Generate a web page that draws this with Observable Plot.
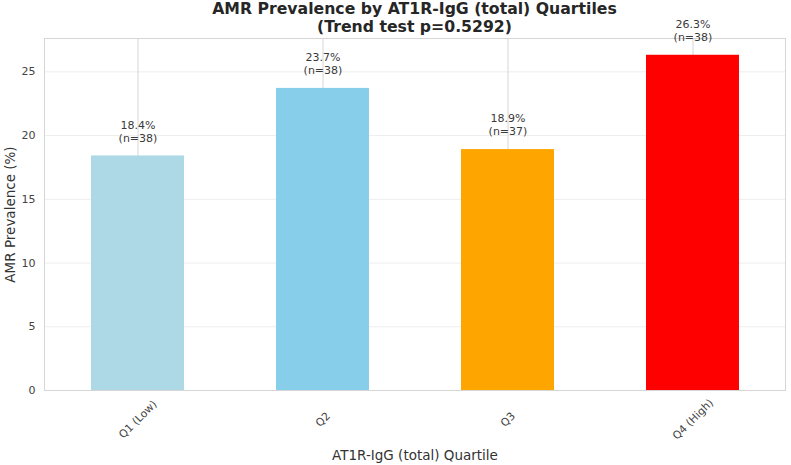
<!DOCTYPE html>
<html>
<head>
<meta charset="utf-8">
<script src="https://cdn.jsdelivr.net/npm/d3@7"></script>
<script src="https://cdn.jsdelivr.net/npm/@observablehq/plot@0.6"></script>
<style>
  html, body { margin: 0; padding: 0; background: #fff; }
  #wrap { position: relative; width: 791px; height: 465px; font-family: "DejaVu Sans", sans-serif; }
  #title { position: absolute; left: 44px; width: 741px; top: 0px; text-align: center;
           font-weight: bold; font-size: 15.7px; line-height: 18px; color: #262626; }
  svg { overflow: visible; }
</style>
</head>
<body>
<div id="wrap">
  <div id="chart"></div>
  <div id="title">AMR Prevalence by AT1R-IgG (total) Quartiles<br>(Trend test p=0.5292)</div>
</div>
<script>
const categories = ["Q1 (Low)", "Q2", "Q3", "Q4 (High)"];
const prevalence = [18.4, 23.7, 18.9, 26.3];
const counts = [38, 38, 37, 38];
const barColors = ["lightblue", "skyblue", "orange", "red"];
const yTicks = [0, 5, 10, 15, 20, 25];

const data = categories.map((c, i) => ({
  cat: c, value: prevalence[i], n: counts[i], color: barColors[i],
  label: `${prevalence[i].toFixed(1)}%\n(n=${counts[i]})`
}));

const chart = Plot.plot({
  width: 791,
  height: 465,
  marginTop: 38,
  marginBottom: 75,
  marginLeft: 44,
  marginRight: 6,
  style: { fontFamily: "DejaVu Sans, sans-serif", background: "#fff", color: "#333" },
  x: { domain: categories, paddingInner: 0.5, paddingOuter: 0.25, label: null },
  y: { domain: [0, 27.615], label: null },
  marks: [
    Plot.ruleY(yTicks.filter(d => d > 0), { stroke: "#ededed", strokeWidth: 1 }),
    Plot.ruleX(categories, { x: d => d, stroke: "#d6d6d6", strokeWidth: 1 }),
    Plot.frame({ stroke: "#d6d6d6", strokeWidth: 1 }),
    Plot.barY(data, { x: "cat", y: "value", fill: "color" }),
    Plot.text(data, {
      x: "cat", y: d => d.value + 1, text: "label", dy: -1.5,
      lineAnchor: "bottom", lineHeight: 1.2, fontSize: 11, fill: "#3a3a3a"
    }),
    Plot.axisY(yTicks, { tickSize: 0, tickPadding: 9, fontSize: 11, fill: "#444", label: null }),
    Plot.axisX({ ticks: [], tickSize: 0, label: null }),
    Plot.text(categories, {
      x: d => d, frameAnchor: "bottom", dy: 29, rotate: -45,
      textAnchor: "middle", lineAnchor: "middle", fontSize: 10.8, fill: "#444"
    }),
    Plot.text(["AT1R-IgG (total) Quartile"], {
      frameAnchor: "bottom", dy: 65, fontSize: 13.5, fill: "#333", lineAnchor: "middle"
    }),
    Plot.text(["AMR Prevalence (%)"], {
      frameAnchor: "left", dx: -34, rotate: -90, fontSize: 13.5, fill: "#333",
      textAnchor: "middle", lineAnchor: "middle"
    })
  ]
});
document.getElementById("chart").appendChild(chart);
</script>
</body>
</html>
